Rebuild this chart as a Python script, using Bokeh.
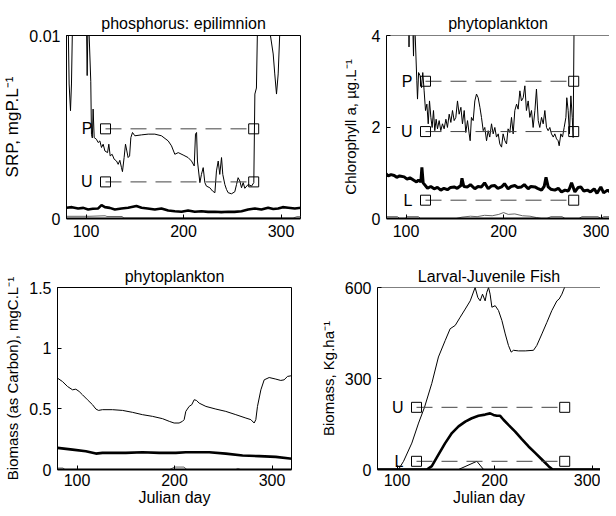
from bokeh.plotting import figure
from bokeh.models import Range1d, FixedTicker, Span, Title
from bokeh.layouts import column, row
from bokeh.embed import file_html
from bokeh.resources import INLINE
from bokeh.core.properties import value

FONT = "Liberation Sans"

# ---------------- data ----------------
x_ticks = [100, 200, 300]
marker_days = [120, 272]

# panel 1: phosphorus (SRP, mgP/L)
srp_ticks = [0, 0.01]
srp_tick_labels = ["0", "0.01"]
srp_thin = [(80.0, 0.012), (81.8, 0.0105), (82.7, 0.00735), (84.1, 0.00589), (85.1, 0.00735),
            (86.1, 0.0105), (93.4, 0.013), (100.6, 0.0102), (101.2, 0.00781), (101.9, 0.0102),
            (102.9, 0.0105), (104.9, 0.0075), (105.6, 0.0046), (106.5, 0.0044), (107.3, 0.00598),
            (108.4, 0.00442), (110.7, 0.00433), (112.5, 0.00415), (114.2, 0.00424), (115.9, 0.00388),
            (117.6, 0.00406), (119.4, 0.00369), (122.1, 0.0036), (123.4, 0.00406), (124.8, 0.00342),
            (126.8, 0.00351), (128.9, 0.00324), (131.3, 0.00314), (133.0, 0.00296), (134.7, 0.00318),
            (136.4, 0.00278), (137.4, 0.00256), (139.1, 0.00333), (140.5, 0.00406), (141.9, 0.00369),
            (143.2, 0.00333), (144.7, 0.00342), (146.0, 0.00442), (147.7, 0.0047), (150.1, 0.00452),
            (157.0, 0.00457), (163.8, 0.00461), (170.6, 0.00461), (177.4, 0.00452), (184.3, 0.00424),
            (187.7, 0.00397), (191.1, 0.00351), (194.6, 0.0036), (199.6, 0.00347), (204.7, 0.00333),
            (208.2, 0.00314), (211.0, 0.00287), (212.3, 0.00461), (213.4, 0.0047), (214.3, 0.00314),
            (216.8, 0.00196), (218.4, 0.00241), (220.2, 0.00278), (221.9, 0.00196), (223.5, 0.00177),
            (227.0, 0.00168), (229.8, 0.0015), (232.2, 0.00141), (233.8, 0.0026), (235.6, 0.00314),
            (237.2, 0.00241), (239.0, 0.00333), (240.3, 0.00241), (242.4, 0.00186), (244.1, 0.00159),
            (245.8, 0.00141), (249.2, 0.00135), (252.6, 0.00146), (254.4, 0.00186), (256.0, 0.00223),
            (257.8, 0.00205), (259.5, 0.00168), (261.2, 0.00196), (262.9, 0.00165), (266.3, 0.00186),
            (269.8, 0.00177), (272.1, 0.00196), (273.2, 0.0068), (274.8, 0.00713), (275.9, 0.0105),
            (282.4, 0.013), (288.6, 0.0102), (292.0, 0.00899), (293.6, 0.0079), (295.4, 0.0068),
            (297.1, 0.0079), (298.8, 0.0102), (306.6, 0.013), (321.1, 0.013)]
srp_thick = [(80.0, 0.00059), (85.6, 0.00062), (91.9, 0.00055), (97.3, 0.00058), (102.2, 0.00049),
             (107.0, 0.00053), (112.5, 0.00055), (115.9, 0.00073), (119.4, 0.00062), (124.4, 0.00058),
             (129.6, 0.00049), (136.4, 0.00055), (143.2, 0.00059), (151.7, 0.00068), (157.0, 0.00059),
             (163.2, 0.00055), (170.6, 0.00049), (177.4, 0.00055), (184.3, 0.00044), (191.1, 0.0004),
             (198.0, 0.00037), (204.7, 0.00044), (211.6, 0.00037), (218.4, 0.0004), (225.2, 0.00036),
             (232.2, 0.00037), (238.8, 0.00035), (245.8, 0.00037), (252.3, 0.00036), (259.5, 0.0004),
             (266.3, 0.00049), (273.2, 0.00055), (279.9, 0.00049), (286.8, 0.00059), (292.1, 0.00052),
             (297.1, 0.00055), (301.8, 0.00062), (307.4, 0.00059), (314.2, 0.00055), (321.1, 0.00059)]
srp_low = [(79.8, 0.00012), (103.1, 0.00012), (119.6, 0.00015), (121.5, 0.00011), (137.0, 0.00011),
           (138.9, 0.00002), (312.4, 0.00002), (316.3, 0.0001), (320.2, 0.0001)]
srp_levels = [0.0049, 0.002]
srp_level_names = ["P", "U"]

# panel 2: chlorophyll a (ug/L)
chl_ticks = [0, 2, 4]
chl_tick_labels = ["0", "2", "4"]
chl_thin = [(102.7, 4.6), (103.1, 3.75), (103.6, 4.6), (106.5, 4.6), (107.7, 3.55), (108.5, 4.6),
            (109.1, 4.2), (111.1, 3.01), (111.8, 2.61), (112.9, 3.19), (114.5, 3.12), (115.9, 2.86),
            (117.2, 3.19), (118.6, 2.79), (120.0, 2.36), (121.4, 2.50), (122.8, 2.07), (124.1, 2.57),
            (125.5, 2.21), (126.8, 1.99), (128.2, 2.36), (129.5, 1.92), (130.9, 2.17), (132.3, 1.96),
            (134.0, 2.14), (135.7, 1.92), (137.4, 2.07), (139.1, 1.96), (140.9, 2.17), (142.5, 1.99),
            (144.3, 2.28), (146.0, 2.10), (147.7, 2.36), (149.4, 2.14), (151.1, 2.21), (152.8, 2.57),
            (154.5, 2.28), (156.3, 2.43), (157.9, 2.07), (159.7, 2.36), (161.3, 1.88), (163.1, 2.14),
            (164.8, 1.85), (165.8, 1.70), (167.1, 2.21), (168.9, 2.14), (170.6, 2.57), (172.3, 2.72),
            (174.0, 2.64), (175.8, 2.43), (177.4, 2.21), (179.2, 1.92), (180.8, 1.99), (182.6, 1.70),
            (184.3, 1.92), (185.9, 1.78), (187.7, 2.07), (189.4, 1.85), (191.1, 1.99), (192.8, 1.78),
            (194.6, 1.85), (196.2, 1.63), (198.0, 1.56), (199.6, 1.85), (201.4, 1.70), (203.1, 1.63),
            (204.7, 1.96), (206.5, 1.88), (208.2, 2.21), (209.9, 1.85), (211.6, 2.36), (213.4, 2.50),
            (215.0, 2.39), (216.8, 2.79), (218.4, 2.57), (220.2, 2.64), (221.9, 2.90), (223.5, 2.36),
            (225.3, 2.57), (227.0, 2.21), (228.7, 2.36), (230.4, 1.99), (232.2, 2.36), (233.8, 2.83),
            (235.6, 2.14), (237.2, 1.99), (239.0, 2.21), (240.7, 2.07), (242.4, 2.36), (244.1, 1.99),
            (245.8, 1.92), (247.5, 1.99), (249.2, 1.85), (251.0, 1.78), (252.6, 1.85), (254.4, 1.74),
            (256.0, 1.70), (257.1, 1.59), (258.8, 1.85), (260.5, 1.78), (262.2, 1.99), (264.0, 2.21),
            (264.9, 2.64), (266.3, 2.36), (267.6, 1.85), (269.1, 2.68), (270.5, 2.21), (271.4, 1.77),
            (272.5, 4.6), (311.5, 4.6)]
chl_thick = [(79.3, 0.98), (81.8, 0.93), (84.7, 0.96), (87.9, 0.94), (90.5, 0.90), (93.4, 0.93),
             (98.1, 0.91), (101.1, 0.86), (104.0, 0.89), (108.4, 0.83), (110.8, 0.80), (112.8, 0.84),
             (115.2, 0.80), (116.3, 1.12), (117.6, 0.78), (122.1, 0.66), (125.4, 0.70), (128.9, 0.65),
             (132.2, 0.68), (135.7, 0.62), (138.9, 0.66), (142.5, 0.63), (145.7, 0.68), (149.4, 0.69),
             (152.5, 0.66), (156.3, 0.72), (157.4, 0.88), (159.3, 0.70), (163.1, 0.69), (166.1, 0.74),
             (170.6, 0.65), (173.8, 0.70), (177.4, 0.69), (180.6, 0.78), (184.3, 0.65), (187.4, 0.71),
             (191.1, 0.72), (194.2, 0.66), (198.0, 0.69), (201.0, 0.76), (204.7, 0.65), (207.8, 0.70),
             (211.6, 0.72), (214.5, 0.68), (218.4, 0.69), (221.3, 0.74), (225.3, 0.65), (228.1, 0.70),
             (232.2, 0.69), (234.9, 0.66), (239.0, 0.62), (241.7, 0.70), (243.6, 0.90), (245.8, 0.69),
             (248.5, 0.64), (252.6, 0.62), (256.2, 0.66), (259.5, 0.58), (263.0, 0.62), (266.3, 0.60),
             (267.8, 0.66), (269.8, 0.78), (273.2, 0.58), (276.6, 0.68), (279.3, 0.69), (282.4, 0.60),
             (286.1, 0.62), (289.2, 0.58), (293.0, 0.65), (295.9, 0.55), (299.8, 0.69), (302.7, 0.56),
             (306.7, 0.62), (309.5, 0.58)]
chl_low = [(79.8, 0.04), (91.4, 0.04), (93.4, 0.0), (99.2, 0.0), (101.1, 0.04), (112.8, 0.04),
           (114.7, 0.0), (151.5, 0.0), (157.4, 0.03), (166.1, 0.05), (172.9, 0.04), (180.6, 0.07),
           (188.4, 0.06), (195.2, 0.09), (200, 0.13), (204.8, 0.09), (211.6, 0.1), (219.4, 0.06),
           (227.1, 0.05), (233.9, 0.02), (238.8, 0.0), (244.6, 0.0), (248.5, 0.04), (260.1, 0.04),
           (263.0, 0.0), (277.5, 0.0), (280.4, 0.04), (296.9, 0.04), (299.8, 0.0), (302.7, 0.04),
           (309.5, 0.04)]
chl_levels = [3.0, 1.9, 0.4]
chl_level_names = ["P", "U", "L"]

# panel 3: phytoplankton carbon (mgC/L)
car_ticks = [0, 0.5, 1, 1.5]
car_tick_labels = ["0", "0.5", "1", "1.5"]
car_thin = [(80.0, 0.753), (85.1, 0.725), (90.3, 0.684), (95.4, 0.657), (98.8, 0.662), (102.2, 0.643),
            (105.6, 0.616), (110.7, 0.575), (115.9, 0.534), (119.4, 0.498), (122.1, 0.487),
            (126.1, 0.493), (136.4, 0.493), (146.7, 0.487), (157.0, 0.471), (167.1, 0.452),
            (177.4, 0.438), (187.7, 0.419), (194.6, 0.397), (199.6, 0.383), (204.7, 0.383),
            (208.2, 0.397), (209.9, 0.411), (211.6, 0.479), (215.0, 0.520), (217.7, 0.534),
            (220.2, 0.575), (222.6, 0.569), (225.3, 0.547), (232.2, 0.520), (242.4, 0.498),
            (252.6, 0.479), (262.9, 0.452), (273.2, 0.424), (278.3, 0.411), (281.7, 0.383),
            (283.4, 0.411), (285.1, 0.520), (288.6, 0.657), (292.0, 0.739), (297.1, 0.758),
            (303.9, 0.745), (309.0, 0.734), (312.4, 0.739), (315.9, 0.767), (319.3, 0.772),
            (321.1, 0.77)]
car_thick = [(80.0, 0.178), (95.4, 0.164), (109.1, 0.151), (119.4, 0.131), (126.1, 0.137),
             (150.1, 0.137), (167.1, 0.142), (184.3, 0.137), (201.4, 0.137), (211.6, 0.142),
             (235.6, 0.142), (252.6, 0.131), (269.8, 0.115), (286.8, 0.110), (303.9, 0.104),
             (321.1, 0.088)]
car_low = [(79.8, 0.012), (85.6, 0.012), (87.6, 0.0), (195.2, 0.0), (200, 0.02), (209.7, 0.02),
           (212.6, 0.0), (263.0, 0.0), (264.9, 0.008), (267.8, 0.0), (320.2, 0.0)]

# panel 4: larval-juvenile fish (kg/ha)
fish_ticks = [0, 300, 600]
fish_tick_labels = ["0", "300", "600"]
fish_thin = [(79.8, 0), (101.5, 0), (106.7, 27), (115.2, 87), (122.1, 153), (128.2, 205), (135.7, 284),
             (142.5, 371), (149.4, 425), (154.5, 464), (159.7, 475), (164.8, 502), (170.0, 529),
             (175.1, 556), (180.1, 600), (182.9, 567), (185.3, 556), (187.7, 578), (190.4, 556),
             (192.1, 584), (193.9, 600), (195.5, 578), (197.3, 535), (200.7, 540), (204.1, 524),
             (207.6, 491), (211.0, 447), (214.3, 409), (217.1, 387), (219.5, 393), (224.6, 391),
             (231.5, 391), (240.0, 393), (243.4, 409), (248.6, 447), (253.7, 485), (258.8, 524),
             (264.0, 556), (266.3, 562), (269.1, 578), (271.8, 600), (274.2, 633), (308.6, 700)]
fish_thick = [(79.8, 0), (130.6, 0), (135.7, 11), (142.5, 49), (149.4, 87), (156.3, 120), (163.1, 142),
              (170.0, 158), (176.7, 169), (183.6, 177), (190.4, 181), (195.5, 185), (198.9, 180),
              (202.4, 177), (205.8, 177), (209.2, 164), (214.3, 147), (221.2, 125), (228.0, 100),
              (234.9, 76), (241.7, 55), (248.6, 33), (255.4, 11), (259.5, 0), (308.6, 0)]
fish_small = [(163.1, 0), (181.9, 27), (188.8, 0)]
fish_levels = [205, 27]
fish_level_names = ["U", "L"]


# ---------------- drawing ----------------
def xs(pairs):
    return [a for a, b in pairs]


def ys(pairs):
    return [b for a, b in pairs]


def style_axis(ax, ticks):
    ax.ticker = FixedTicker(ticks=ticks)
    ax.major_tick_in = 4
    ax.major_tick_out = 0
    ax.minor_tick_in = 0
    ax.minor_tick_out = 0
    ax.axis_line_color = "black"
    ax.major_tick_line_color = "black"
    ax.major_label_text_font = FONT
    ax.major_label_text_color = "black"
    ax.major_label_text_font_size = "16px"
    ax.major_label_standoff = 6


def make_panel(title, ylabel, ymax, yticks, ylabels, x_end, fw, fh, left_px, right_px, top_px,
               bottom_px, xlabel, boxed, title_standoff, ylabel_standoff, ylabel_size="15px"):
    t = Title(text=title, align="center", text_font=FONT, text_font_size="16px",
              text_font_style="normal", text_color="black", standoff=title_standoff)
    p = figure(frame_width=fw, frame_height=fh, x_range=Range1d(80, x_end),
               y_range=Range1d(0, ymax), title=t,
               output_backend="svg", toolbar_location=None, tools="",
               min_border_left=left_px, min_border_right=right_px,
               min_border_top=top_px, min_border_bottom=bottom_px)
    p.grid.visible = False
    if boxed:
        p.outline_line_color = "black"
        p.outline_line_alpha = 1
        p.outline_line_width = 1
    else:
        p.outline_line_color = None
        p.add_layout(Span(location=ymax, dimension="width", line_color="black", line_width=1))

    xa = p.xaxis[0]
    style_axis(xa, x_ticks)
    xa.axis_line_width = 2
    if xlabel:
        xa.axis_label = xlabel
        xa.axis_label_text_font = FONT
        xa.axis_label_text_font_size = "16px"
        xa.axis_label_text_font_style = "normal"
        xa.axis_label_text_color = "black"
        xa.axis_label_standoff = 0
        xa.major_label_standoff = 4

    ya = p.yaxis[0]
    style_axis(ya, yticks)
    ya.major_label_overrides = {t: l for t, l in zip(yticks, ylabels)}
    ya.axis_label = ylabel
    ya.axis_label_text_font = FONT
    ya.axis_label_text_font_size = ylabel_size
    ya.axis_label_text_font_style = "normal"
    ya.axis_label_text_color = "black"
    ya.axis_label_standoff = ylabel_standoff
    return p


def add_levels(p, levels, names):
    for lvl, name in zip(levels, names):
        p.line(marker_days, [lvl, lvl], line_color="#444444", line_width=1, line_dash="16 9")
        p.scatter(marker_days, [lvl, lvl], marker="square", size=10, fill_color=None,
                  line_color="black", line_width=1)
        p.text(x=[marker_days[0]], y=[lvl], text=[name], text_align="right",
               text_baseline="middle", x_offset=-13, text_font=value(FONT),
               text_font_size="16px", text_color="black")


LEFT_END = 320
RIGHT_END = 308.7

p1 = make_panel("phosphorus: epilimnion", "SRP, mgP.L\u207b\u00b9", 0.01, srp_ticks, srp_tick_labels,
                LEFT_END, 234, 183, 57, 9, 35, 40, None, True, 8, 4, ylabel_size="17px")
p1.line(xs(srp_low), ys(srp_low), line_color="#666666", line_width=1)
p1.line(xs(srp_thick), ys(srp_thick), line_color="black", line_width=2.6)
p1.line(xs(srp_thin), ys(srp_thin), line_color="black", line_width=1)
add_levels(p1, srp_levels, srp_level_names)

p2 = make_panel("phytoplankton", "Chlorophyll a, \u00b5g.L\u207b\u00b9", 4, chl_ticks, chl_tick_labels,
                RIGHT_END, 223, 183, 77, 0, 35, 40, None, False, 8, 10)
p2.line(xs(chl_low), ys(chl_low), line_color="#666666", line_width=1)
p2.line(xs(chl_thick), ys(chl_thick), line_color="black", line_width=3)
p2.line(xs(chl_thin), ys(chl_thin), line_color="black", line_width=1)
add_levels(p2, chl_levels, chl_level_names)

p3 = make_panel("phytoplankton", "Biomass (as Carbon), mgC.L\u207b\u00b9", 1.5, car_ticks, car_tick_labels,
                LEFT_END, 234, 182, 57, 9, 29, 39, "Julian day", True, 6, 5)
p3.line(xs(car_low), ys(car_low), line_color="#666666", line_width=1)
p3.line(xs(car_thick), ys(car_thick), line_color="black", line_width=2.6)
p3.line(xs(car_thin), ys(car_thin), line_color="black", line_width=1)

p4 = make_panel("Larval-Juvenile Fish", "Biomass, Kg.ha\u207b\u00b9", 600, fish_ticks, fish_tick_labels,
                RIGHT_END, 223, 182, 77, 0, 29, 39, "Julian day", False, 6, 5)
p4.line(xs(fish_small), ys(fish_small), line_color="black", line_width=1)
p4.line(xs(fish_thick), ys(fish_thick), line_color="black", line_width=2.6)
p4.line(xs(fish_thin), ys(fish_thin), line_color="black", line_width=1)
add_levels(p4, fish_levels, fish_level_names)

layout = column(row(p1, p2), row(p3, p4))
open("out.html", "w").write(file_html(layout, INLINE))
